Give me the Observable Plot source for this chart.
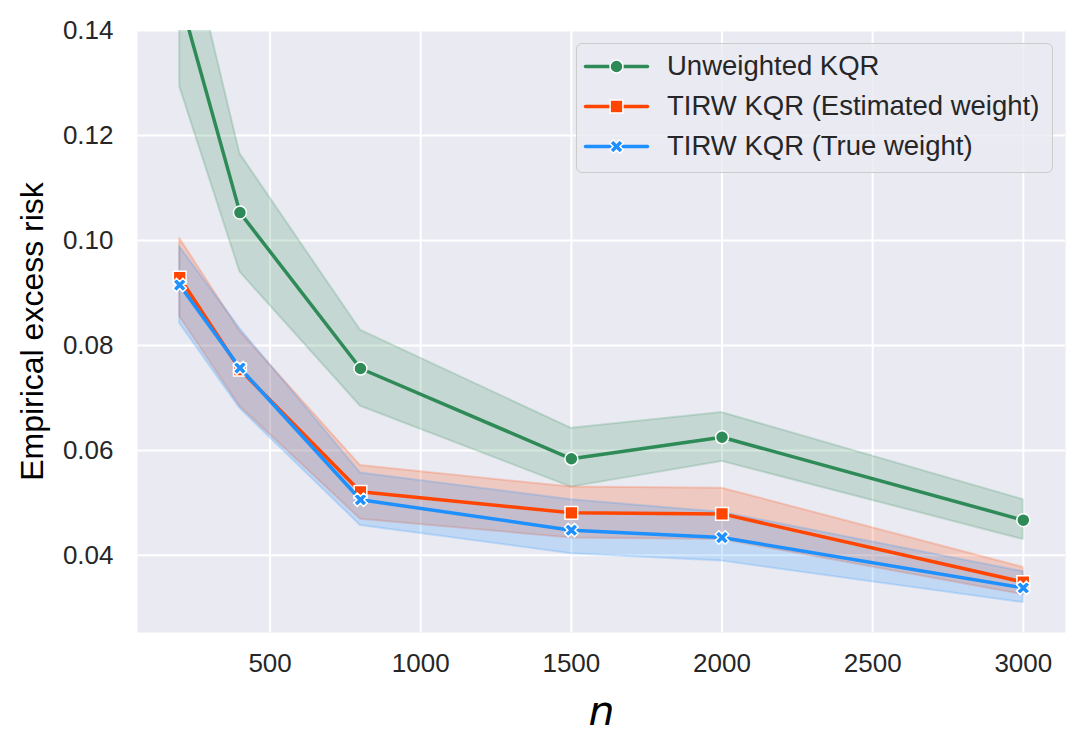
<!DOCTYPE html>
<html>
<head>
<meta charset="utf-8">
<script src="https://cdn.jsdelivr.net/npm/d3@7"></script>
<script src="https://cdn.jsdelivr.net/npm/@observablehq/plot@0.6"></script>
<style>
  body { margin: 0; background: #ffffff; font-family: "Liberation Sans", Arial, sans-serif; }
  #wrap { position: relative; width: 1085px; height: 748px; }
  #legend { position: absolute; left: 576px; top: 43px; width: 477px; height: 130px; box-sizing: border-box;
            background: rgba(234,234,242,0.8); border: 1.5px solid #cccccc; border-radius: 6px; }
  .row { position: absolute; left: 8px; height: 40px; display: flex; align-items: center; }
  .row svg { display: block; }
  .row span { font-size: 27.5px; color: #262626; margin-left: 20px; white-space: nowrap; }
</style>
</head>
<body>
<div id="wrap"><div id="chart"></div><div id="legend"></div></div>
<script>
// ---- data ----
const ns = [200, 400, 800, 1500, 2000, 3000];

const unwMean = [0.1465, 0.1053, 0.0756, 0.0584, 0.0625, 0.0467];
const unwLo   = [0.1293, 0.0940, 0.0684, 0.0530, 0.0579, 0.0430];
const unwHi   = [0.1644, 0.1165, 0.0829, 0.0642, 0.0672, 0.0506];

const estMean = [0.0929, 0.0754, 0.0521, 0.0481, 0.0479, 0.0349];
const estLo   = [0.0855, 0.0684, 0.0469, 0.0433, 0.0430, 0.0325];
const estHi   = [0.1004, 0.0827, 0.0571, 0.0530, 0.0528, 0.0377];

const trueMean = [0.0915, 0.0757, 0.0506, 0.0448, 0.0434, 0.0338];
const trueLo   = [0.0842, 0.0680, 0.0457, 0.0403, 0.0389, 0.0310];
const trueHi   = [0.0988, 0.0832, 0.0557, 0.0506, 0.0482, 0.0369];

const seriesNames = ["Unweighted KQR", "TIRW KQR (Estimated weight)", "TIRW KQR (True weight)"];
const seriesColors = ["#2e8b57", "#ff4500", "#1e90ff"];

const xTicks = [500, 1000, 1500, 2000, 2500, 3000];
const yTicks = [0.04, 0.06, 0.08, 0.10, 0.12, 0.14];
const xLabel = "n";
const yLabel = "Empirical excess risk";

// filled "X" marker (matplotlib style)
const xSymbol = {
  draw(context, size) {
    const r = Math.sqrt(size / Math.PI);
    const a = r * 0.36;
    const pts = [[-a,-r],[a,-r],[a,-a],[r,-a],[r,a],[a,a],[a,r],[-a,r],[-a,a],[-r,a],[-r,-a],[-a,-a]];
    const c = Math.SQRT1_2;
    pts.forEach(([x, y], i) => {
      const X = (x - y) * c, Y = (x + y) * c;
      if (i) context.lineTo(X, Y); else context.moveTo(X, Y);
    });
    context.closePath();
  }
};

const series = [
  {name: seriesNames[0], color: seriesColors[0], mean: unwMean, lo: unwLo, hi: unwHi, symbol: "circle", r: 6.5},
  {name: seriesNames[1], color: seriesColors[1], mean: estMean, lo: estLo, hi: estHi, symbol: "square", r: 7.2},
  {name: seriesNames[2], color: seriesColors[2], mean: trueMean, lo: trueLo, hi: trueHi, symbol: xSymbol, r: 7}
];
series.forEach(s => { s.rows = ns.map((n, i) => ({n, mean: s.mean[i], lo: s.lo[i], hi: s.hi[i]})); });

const marks = [
  Plot.frame({fill: "#eaeaf2", stroke: null}),
  Plot.gridX(xTicks, {stroke: "white", strokeOpacity: 1, strokeWidth: 2}),
  Plot.gridY(yTicks, {stroke: "white", strokeOpacity: 1, strokeWidth: 2})
];
series.forEach(s => {
  marks.push(Plot.areaY(s.rows, {x: "n", y1: "lo", y2: "hi", fill: s.color, fillOpacity: 0.2,
    stroke: s.color, strokeOpacity: 0.2, strokeWidth: 2, clip: true}));
});
series.forEach(s => {
  marks.push(Plot.line(s.rows, {x: "n", y: "mean", stroke: s.color, strokeWidth: 3.5, clip: true}));
  marks.push(Plot.dot(s.rows, {x: "n", y: "mean", symbol: s.symbol, r: s.r, fill: s.color,
    stroke: "white", strokeWidth: 1.5, clip: true}));
});
marks.push(
  Plot.axisX(xTicks, {tickSize: 0, tickPadding: 21, tickFormat: d3.format("d"), fontSize: 26, fill: "#262626", label: null}),
  Plot.axisY(yTicks, {tickSize: 0, tickPadding: 24, tickFormat: d3.format(".2f"), fontSize: 26, fill: "#262626", label: null}),
  Plot.axisX({ticks: [], label: xLabel, labelAnchor: "center", labelArrow: "none", labelOffset: 92,
    fontSize: 41, fontStyle: "italic", fontFamily: "DejaVu Sans", fill: "#000"}),
  Plot.axisY({ticks: [], label: yLabel, labelAnchor: "center", labelArrow: "none", labelOffset: 117,
    fontSize: 32, fill: "#000"})
);

const chart = Plot.plot({
  width: 1085, height: 748,
  marginLeft: 137, marginRight: 20, marginTop: 30, marginBottom: 116,
  x: {domain: [60, 3140]},
  y: {domain: [0.0253, 0.14]},
  style: {fontFamily: "'Liberation Sans', Arial, sans-serif", background: "white"},
  marks
});
document.getElementById("chart").appendChild(chart);

// legend overlay
const legend = document.getElementById("legend");
series.forEach((s, i) => {
  const row = document.createElement("div");
  row.className = "row";
  row.style.top = (2 + i * 40) + "px";
  const sw = Plot.plot({
    width: 62, height: 40, margin: 0, axis: null,
    x: {domain: [0, 1]}, y: {domain: [0, 1]},
    style: {background: "transparent", overflow: "visible"},
    marks: [
      Plot.line([{a: 0, b: 0.5}, {a: 1, b: 0.5}], {x: "a", y: "b", stroke: s.color, strokeWidth: 3.5}),
      Plot.dot([{a: 0.5, b: 0.5}], {x: "a", y: "b", symbol: s.symbol, r: s.r, fill: s.color, stroke: "white", strokeWidth: 1.5})
    ]
  });
  row.appendChild(sw);
  const t = document.createElement("span");
  t.textContent = s.name;
  row.appendChild(t);
  legend.appendChild(row);
});
</script>
</body>
</html>
